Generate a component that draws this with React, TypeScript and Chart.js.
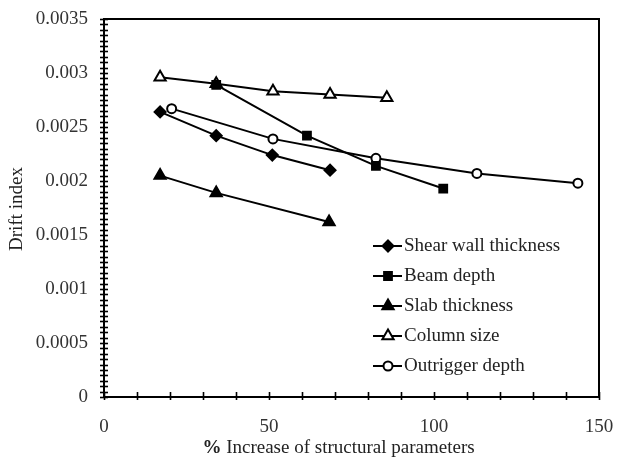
import React, { useEffect, useRef } from "react";
import { Chart, registerables } from "chart.js";

Chart.register(...registerables);

const seriesNames = ["Shear wall thickness", "Beam depth", "Slab thickness", "Column size", "Outrigger depth"];

const shearX = [17, 34, 51, 68.5];
const shearY = [0.00264, 0.00242, 0.00224, 0.0021];
const beamX = [34, 61.5, 82.4, 102.8];
const beamY = [0.00289, 0.00242, 0.00214, 0.00193];
const slabX = [17, 34, 68.2];
const slabY = [0.00205, 0.00189, 0.00162];
const columnX = [17, 34, 51.2, 68.5, 85.7];
const columnY = [0.00296, 0.0029, 0.00283, 0.0028, 0.00277];
const outriggerX = [20.5, 51.2, 82.4, 113, 143.6];
const outriggerY = [0.00267, 0.00239, 0.00221, 0.00207, 0.00198];

const xMin = 0;
const xMax = 150;
const xLabelStep = 50;
const xMinorStep = 10;
const yMin = 0;
const yMax = 0.0035;
const yLabelStep = 0.0005;
const yMinorStep = 0.00005;

const xTitle = "Increase of structural parameters";
const yTitle = "Drift index";

const FONT = "'Liberation Serif', 'Times New Roman', serif";
const FS = 19;

const pts = (xs: number[], ys: number[]) => xs.map((x, i) => ({ x, y: ys[i] }));

type Marker = { style: string; radius: number; fill: string };
const markers: Marker[] = [
  { style: "rectRot", radius: 5.5, fill: "#000" },
  { style: "rect", radius: 5.5, fill: "#000" },
  { style: "triangle", radius: 6.5, fill: "#000" },
  { style: "triangle", radius: 6.5, fill: "#fff" },
  { style: "circle", radius: 4.5, fill: "#fff" },
];

function drawMarker(ctx: CanvasRenderingContext2D, m: Marker, x: number, y: number) {
  ctx.save();
  ctx.fillStyle = m.fill;
  ctx.strokeStyle = "#000";
  ctx.lineWidth = 2;
  ctx.beginPath();
  const r = m.radius;
  if (m.style === "rectRot") {
    ctx.moveTo(x, y - r);
    ctx.lineTo(x + r, y);
    ctx.lineTo(x, y + r);
    ctx.lineTo(x - r, y);
    ctx.closePath();
  } else if (m.style === "rect") {
    const s = r * Math.SQRT1_2;
    ctx.rect(x - s, y - s, 2 * s, 2 * s);
  } else if (m.style === "triangle") {
    const side = (3 * r) / Math.sqrt(3);
    const h = (side * Math.sqrt(3)) / 2;
    ctx.moveTo(x, y - (2 * h) / 3);
    ctx.lineTo(x + side / 2, y + h / 3);
    ctx.lineTo(x - side / 2, y + h / 3);
    ctx.closePath();
  } else {
    ctx.arc(x, y, r, 0, Math.PI * 2);
  }
  ctx.fill();
  ctx.stroke();
  ctx.restore();
}

const decorPlugin = {
  id: "decor",
  afterDraw(chart: any) {
    const ctx: CanvasRenderingContext2D = chart.ctx;
    const area = chart.chartArea;
    const xs = chart.scales.x;
    const ys = chart.scales.y;
    ctx.save();
    ctx.strokeStyle = "#000";
    ctx.lineWidth = 2;
    ctx.strokeRect(area.left, area.top, area.right - area.left, area.bottom - area.top);
    ctx.lineWidth = 1.6;
    const nY = Math.round((yMax - yMin) / yMinorStep);
    for (let i = 0; i <= nY; i++) {
      const py = Math.round(ys.getPixelForValue(yMin + i * yMinorStep)) + 0.5;
      ctx.beginPath();
      ctx.moveTo(area.left - 4, py);
      ctx.lineTo(area.left + 4, py);
      ctx.stroke();
    }
    const nX = Math.round((xMax - xMin) / xMinorStep);
    for (let i = 0; i <= nX; i++) {
      const px = Math.round(xs.getPixelForValue(xMin + i * xMinorStep)) + 0.5;
      ctx.beginPath();
      ctx.moveTo(px, area.bottom - 5);
      ctx.lineTo(px, area.bottom + 3);
      ctx.stroke();
    }
    ctx.fillStyle = "#222";
    ctx.textBaseline = "middle";
    ctx.font = `bold ${FS}px ${FONT}`;
    const pctW = ctx.measureText("%").width;
    ctx.font = `${FS}px ${FONT}`;
    const restW = ctx.measureText(" " + xTitle).width;
    const total = pctW + restW;
    const cx = (area.left + area.right) / 2 - 13;
    const tx = cx - total / 2;
    ctx.textAlign = "left";
    ctx.font = `bold ${FS}px ${FONT}`;
    ctx.fillText("%", tx, area.bottom + 51);
    ctx.font = `${FS}px ${FONT}`;
    ctx.fillText(" " + xTitle, tx + pctW, area.bottom + 51);

    ctx.save();
    ctx.translate(17, (area.top + area.bottom) / 2 + 1);
    ctx.rotate(-Math.PI / 2);
    ctx.textAlign = "center";
    ctx.fillText(yTitle, 0, 0);
    ctx.restore();

    const lx0 = area.left + 269;
    const ly0 = area.top + 227;
    ctx.font = `${FS}px ${FONT}`;
    ctx.textAlign = "left";
    seriesNames.forEach((name, i) => {
      const y = ly0 + i * 30;
      ctx.strokeStyle = "#000";
      ctx.lineWidth = 2;
      ctx.beginPath();
      ctx.moveTo(lx0, y);
      ctx.lineTo(lx0 + 29, y);
      ctx.stroke();
      drawMarker(ctx, markers[i], lx0 + 15, y);
      ctx.fillStyle = "#222";
      ctx.fillText(name, lx0 + 31, y);
    });
    ctx.restore();
  },
};

export default function App() {
  const ref = useRef<HTMLCanvasElement | null>(null);
  useEffect(() => {
    document.body.style.margin = "0";
    if (!ref.current) return;
    const sets = [
      pts(shearX, shearY),
      pts(beamX, beamY),
      pts(slabX, slabY),
      pts(columnX, columnY),
      pts(outriggerX, outriggerY),
    ];
    const chart = new Chart(ref.current, {
      type: "scatter",
      data: {
        datasets: sets.map((d, i) => ({
          label: seriesNames[i],
          data: d,
          showLine: true,
          borderColor: "#000",
          borderWidth: 2,
          pointStyle: markers[i].style as any,
          pointRadius: markers[i].radius,
          pointBackgroundColor: markers[i].fill,
          pointBorderColor: "#000",
          pointBorderWidth: 2,
        })),
      },
      plugins: [decorPlugin],
      options: {
        animation: false,
        responsive: false,
        maintainAspectRatio: false,
        layout: { padding: { left: 0, top: 0, right: 0, bottom: 0 } },
        plugins: { legend: { display: false }, tooltip: { enabled: false } },
        scales: {
          x: {
            type: "linear",
            min: xMin,
            max: xMax,
            grid: { display: false, drawTicks: false },
            border: { display: true, color: "#000", width: 2 },
            ticks: {
              stepSize: xLabelStep,
              padding: 19,
              color: "#333",
              font: { family: FONT, size: FS },
              maxRotation: 0,
            },
            afterFit: (s: any) => {
              s.height = 62;
              s.paddingRight = 27;
              s.paddingLeft = 0;
            },
          },
          y: {
            type: "linear",
            min: yMin,
            max: yMax,
            grid: { display: false, drawTicks: false },
            border: { display: true, color: "#000", width: 2 },
            ticks: {
              stepSize: yLabelStep,
              padding: 16,
              color: "#333",
              font: { family: FONT, size: FS },
              callback: (v: any) => parseFloat(Number(v).toFixed(5)).toString(),
            },
            afterFit: (s: any) => {
              s.width = 104;
              s.paddingTop = 19;
              s.paddingBottom = 0;
            },
          },
        },
      },
    });
    return () => chart.destroy();
  }, []);
  return (
    <div style={{ width: 626, height: 459 }}>
      <canvas ref={ref} width={626} height={459} />
    </div>
  );
}
